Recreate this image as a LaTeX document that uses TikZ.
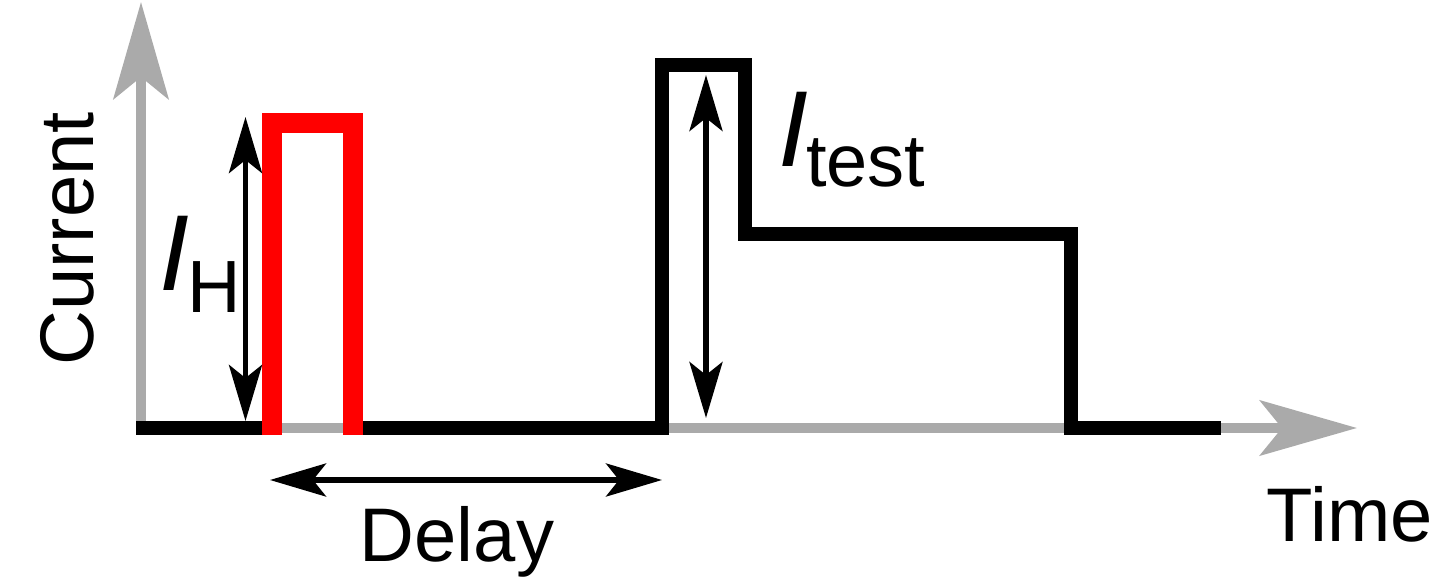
\documentclass[tikz,border=0pt]{standalone}
\usepackage{fontspec}
\setmainfont{Liberation Sans}
\usetikzlibrary{arrows.meta}
\definecolor{axisgray}{RGB}{170,170,170}
\tikzset{
  axisline/.style={draw=axisgray, line width=10pt, -{Stealth[length=97pt,width=55pt,inset=22pt]}},
  signal/.style={draw=black, line width=14pt, line join=miter},
  heater/.style={draw=red, line width=20pt, line join=miter},
  dimarrow/.style={draw=black, line width=5.5pt, {Stealth[length=56pt,width=33pt,inset=13pt]}-{Stealth[length=56pt,width=33pt,inset=13pt]}},
  lbl/.style={inner sep=0pt, font=\fontsize{76pt}{80pt}\selectfont},
  bigI/.style={inner sep=0pt, font=\fontsize{108pt}{112pt}\selectfont\itshape},
  subl/.style={inner sep=0pt, font=\fontsize{74pt}{80pt}\selectfont}
}
\begin{document}
\begin{tikzpicture}[x=1pt,y=-1pt]
\useasboundingbox (0,0) rectangle (1435,580);
% coordinates
\coordinate (o) at (141,428);
\coordinate (xstart) at (136,428);
\coordinate (ytip) at (141,2);
\coordinate (xtip) at (1357,428);
% axes
\draw[axisline] (o) -- (ytip);
\draw[axisline] (xstart) -- (xtip);
% black signal
\coordinate (b0) at (136,428);
\coordinate (b1) at (266,428);
\coordinate (b2) at (358,428);
\coordinate (b3) at (662,428);
\coordinate (b4) at (662,65);
\coordinate (b5) at (744.5,65);
\coordinate (b6) at (744.5,234);
\coordinate (b7) at (1070.5,234);
\coordinate (b8) at (1070.5,428);
\coordinate (b9) at (1221,428);
\draw[signal] (b0) -- (b1);
\draw[signal] (b2) -- (b3) -- (b4) -- (b5) -- (b6) -- (b7) -- (b8) -- (b9);
% red heater pulse
\coordinate (r0) at (271.5,435);
\coordinate (r1) at (271.5,123);
\coordinate (r2) at (353,123);
\coordinate (r3) at (353,435);
\draw[heater] (r0) -- (r1) -- (r2) -- (r3);
% dimension arrows
\coordinate (ih0) at (245.5,421);
\coordinate (ih1) at (245.5,117);
\draw[dimarrow] (ih0) -- (ih1);
\coordinate (it0) at (706,418);
\coordinate (it1) at (706,75);
\draw[dimarrow] (it0) -- (it1);
\coordinate (d0) at (270,480);
\coordinate (d1) at (662,480);
\draw[dimarrow] (d0) -- (d1);
% labels
\node[lbl, rotate=90, anchor=base] (current) at (93,239) {Current};
\node[lbl, anchor=base] (time) at (1350,541) {Time};
\node[lbl, anchor=base] (delay) at (457,561) {Delay};
\node[bigI, anchor=base west] (IH) at (159,290) {I};
\node[subl, anchor=base west] (IHsub) at (187,312) {H};
\node[bigI, anchor=base west] (It) at (778,167) {I};
\node[subl, anchor=base west] (Itsub) at (806,187) {test};
\end{tikzpicture}
\end{document}
